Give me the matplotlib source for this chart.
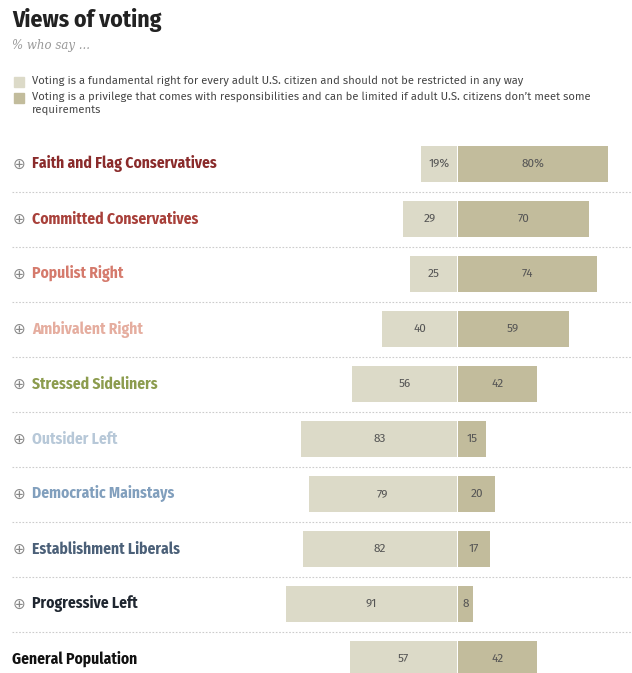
import matplotlib
matplotlib.use("Agg")
import matplotlib.pyplot as plt
from matplotlib.transforms import blended_transform_factory
from matplotlib import font_manager

# ---- data ----
groups = ["Faith and Flag Conservatives", "Committed Conservatives", "Populist Right",
          "Ambivalent Right", "Stressed Sideliners", "Outsider Left",
          "Democratic Mainstays", "Establishment Liberals", "Progressive Left",
          "General Population"]
right_vals = [19, 29, 25, 40, 56, 83, 79, 82, 91, 57]
privilege_vals = [80, 70, 74, 59, 42, 15, 20, 17, 8, 42]
group_colors = ["#8a2b2b", "#a8403a", "#d57a6c", "#e5ad9f", "#8c9c4e", "#b7c8d8",
                "#819fbd", "#4b6078", "#1f2630", "#111111"]
legend_labels = ["Voting is a fundamental right for every adult U.S. citizen and should not be restricted in any way",
                 "Voting is a privilege that comes with responsibilities and can be limited if adult U.S. citizens don\u2019t meet some\nrequirements"]
c_right = "#dcdac8"
c_priv = "#c2bc9c"


def weight_num(w):
    if isinstance(w, str):
        return font_manager.weight_dict.get(w, 400)
    return w


def pick(cands, minw):
    for c in cands:
        ws = [weight_num(f.weight) for f in font_manager.fontManager.ttflist if f.name == c]
        if any(w >= minw for w in ws):
            return c
    return "DejaVu Sans"


BOLDF = pick(["Fira Sans Condensed", "IBM Plex Sans Condensed", "Barlow Condensed",
              "Encode Sans Condensed", "Archivo Narrow", "Liberation Sans"], 600)
REGF = pick(["Libre Franklin", "Fira Sans", "Liberation Sans"], 300)

W, H = 632, 673
fig = plt.figure(figsize=(W / 100, H / 100), dpi=100)
renderer = fig.canvas.get_renderer()


def fit_size(text, family, weight, target_px, style="normal"):
    t = fig.text(0, 0, text, fontsize=10, family=family, fontweight=weight, style=style)
    w = t.get_window_extent(renderer).width
    t.remove()
    return 10 * target_px / w


lab_size = fit_size("Faith and Flag Conservatives", BOLDF, "bold", 184)
title_size = fit_size("Views of voting", BOLDF, "bold", 150)
leg_size = fit_size(legend_labels[0], REGF, "normal", 489)

ax = fig.add_axes([0, 0, 1, 1])
ax.set_xlim(-457 / 1.875, (W - 457) / 1.875)
ax.set_ylim((H - 164) / 55, -164 / 55)
ax.axis("off")

n = len(groups)
ys = list(range(n))
ax.barh(ys, [-v for v in right_vals], height=0.64, color=c_right, edgecolor="none")
ax.barh(ys, privilege_vals, height=0.64, color=c_priv, edgecolor="none", left=0.5)

for i in range(n):
    lt = f"{right_vals[i]}%" if i == 0 else f"{right_vals[i]}"
    rt = f"{privilege_vals[i]}%" if i == 0 else f"{privilege_vals[i]}"
    ax.text(-right_vals[i] / 2, i, lt, ha="center", va="center", fontsize=leg_size * 1.05,
            color="#555555", family=REGF)
    ax.text(0.5 + privilege_vals[i] / 2, i, rt, ha="center", va="center", fontsize=leg_size * 1.05,
            color="#555555", family=REGF)

tr = blended_transform_factory(ax.transAxes, ax.transData)
for i, g in enumerate(groups):
    if i < n - 1:
        ax.text(13 / W, i, "\u2295", transform=tr, ha="left", va="center", fontsize=11,
                color="#8a8a8a", family=["DejaVu Sans"])
        ax.text(32 / W, i, g, transform=tr, ha="left", va="center", fontsize=lab_size,
                color=group_colors[i], family=BOLDF, fontweight="bold")
    else:
        ax.text(12 / W, i, g, transform=tr, ha="left", va="center", fontsize=lab_size,
                color=group_colors[i], family=BOLDF, fontweight="bold")
    if i < n - 1:
        ax.plot([12 / W, 1.0], [i + 0.5, i + 0.5], transform=tr, color="#cccccc",
                lw=0.8, ls=(0, (1.5, 1.5)))

fig.text(12 / W, 1 - 20 / H, "Views of voting", ha="left", va="center", fontsize=title_size,
         fontweight="bold", color="#222222", family=BOLDF)
fig.text(12 / W, 1 - 46 / H, "% who say ...", ha="left", va="center", fontsize=8.5,
         style="italic", color="#999999", family="DejaVu Serif")
for k, (lab, col) in enumerate(zip(legend_labels, [c_right, c_priv])):
    yc = [82, 98][k]
    fig.patches.append(plt.Rectangle((14 / W, 1 - (yc + 5) / H), 10 / W, 10 / H,
                                     transform=fig.transFigure, color=col, figure=fig))
    fig.text(32 / W, 1 - (yc - 7) / H, lab, ha="left", va="top", fontsize=leg_size,
             color="#444444", family=REGF, linespacing=1.3)

fig.savefig("out.png", dpi=100)
